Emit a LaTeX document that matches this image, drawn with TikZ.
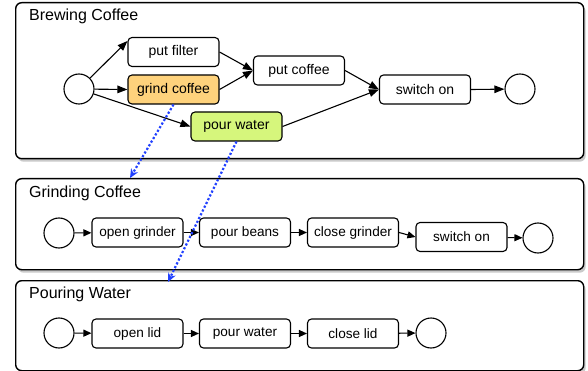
\documentclass[tikz,border=0pt]{standalone}
\usepackage{fontspec}
\setmainfont{Liberation Sans}
\usetikzlibrary{arrows.meta,shadows}
\definecolor{orangefill}{RGB}{254,210,124}
\definecolor{limefill}{RGB}{214,246,124}
\definecolor{linkblue}{RGB}{32,64,255}
\begin{document}
\begin{tikzpicture}[x=1pt,y=-1pt,
  panel/.style={draw=black,line width=1.4pt,rounded corners=6pt,fill=white,
    drop shadow={shadow xshift=2pt,shadow yshift=-3pt,opacity=0.35,fill=black!60}},
  title/.style={anchor=west,font=\fontsize{16}{18}\selectfont,inner sep=0pt},
  task/.style={draw=black,line width=1.1pt,rounded corners=4pt,fill=white,
    minimum width=91pt,minimum height=29pt,inner sep=0pt,font=\fontsize{14}{16}\selectfont},
  ltask/.style={task,font=\fontsize{13.6}{15}\selectfont},
  ev/.style={draw=black,line width=1.1pt,circle,minimum size=30pt,inner sep=0pt,fill=white},
  flow/.style={line width=1.1pt,-{Triangle[length=10pt,width=7.5pt]}},
  sflow/.style={line width=1.1pt,-{Triangle[length=8pt,width=7pt]}},
  link/.style={linkblue,line width=2.2pt,dotted,-{Stealth[length=9pt,width=8pt,open]}}]
\useasboundingbox (0,0) rectangle (588,371);
% panels
\node[panel,minimum width=568pt,minimum height=156pt,anchor=north west] (p1) at (15,2) {};
\node[panel,minimum width=568pt,minimum height=91pt,anchor=north west] (p2) at (15,178) {};
\node[panel,minimum width=568pt,minimum height=90pt,anchor=north west] (p3) at (15,280) {};
\node[title] (t1) at (29,16) {Brewing Coffee};
\node[title] (t2) at (29,193) {Grinding Coffee};
\node[title] (t3) at (29,294) {Pouring Water};
% brewing
\node[ev] (s1) at (79,89) {};
\node[task] (pf) at (173.5,52) {put filter};
\node[task,fill=orangefill] (gc) at (173.5,89.5) {grind coffee};
\node[task,fill=limefill] (pw) at (236.5,126.5) {pour water};
\node[task] (pc) at (299,70.5) {put coffee};
\node[task] (sw) at (425,89.5) {switch on};
\node[ev] (e1) at (520,89) {};
\draw[flow] (s1) -- ([yshift=11pt]pf.west);
\draw[flow] (s1) -- (gc.west);
\draw[flow] (s1) -- (pw.west);
\draw[flow] (pf.east) -- (pc.west);
\draw[flow] (gc.east) -- (pc.west);
\draw[flow] (pc.east) -- (sw.west);
\draw[flow] (pw.east) -- (sw.west);
\draw[flow] (sw.east) -- (e1);
% grinding
\node[ev] (s2) at (59,233) {};
\node[ltask] (og) at (137.5,232.5) {open grinder};
\node[ltask] (pb) at (245,232.5) {pour beans};
\node[ltask] (cg) at (353,232.5) {close grinder};
\node[ltask] (sw2) at (461.5,237) {switch on};
\node[ev] (e2) at (538,238) {};
\draw[sflow] (s2) -- (og);
\draw[sflow] (og) -- (pb);
\draw[sflow] (pb) -- (cg);
\draw[sflow] (cg.east) -- (sw2.west);
\draw[sflow] (sw2) -- (e2);
% pouring
\node[ev] (s3) at (59,333) {};
\node[ltask] (ol) at (137.5,333.5) {open lid};
\node[ltask] (pw2) at (245,333.5) {pour water};
\node[ltask] (cl) at (353,333.5) {close lid};
\node[ev] (e3) at (431,333) {};
\draw[sflow] (s3) -- (ol);
\draw[sflow] (ol) -- (pw2);
\draw[sflow] (pw2) -- (cl);
\draw[sflow] (cl) -- (e3);
% links
\coordinate (l1) at (130,178);
\coordinate (l2) at (168,282);
\draw[link] (gc.south) -- (l1);
\draw[link] (pw.south) -- (l2);
\end{tikzpicture}
\end{document}
